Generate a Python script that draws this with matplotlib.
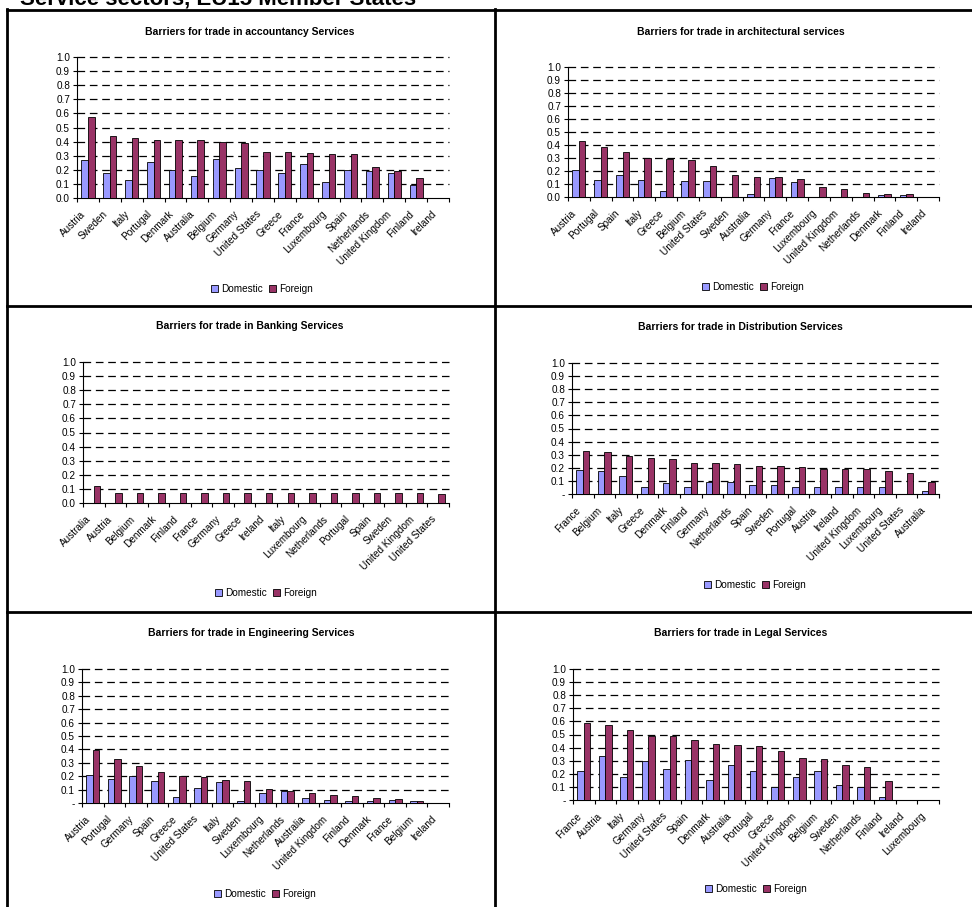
import numpy as np
import matplotlib
matplotlib.use("Agg")
import matplotlib.pyplot as plt
from matplotlib.patches import Patch
from matplotlib.lines import Line2D
import matplotlib.transforms as mtransforms

plt.rcParams['font.family'] = ['Liberation Sans', 'DejaVu Sans']
plt.rcParams['lines.scale_dashes'] = False

# ---- data -------------------------------------------------------------
acc_countries = ["Austria", "Sweden", "Italy", "Portugal", "Denmark", "Australia",
                 "Belgium", "Germany", "United States", "Greece", "France",
                 "Luxembourg", "Spain", "Netherlands", "United Kingdom", "Finland",
                 "Ireland"]
acc_domestic = [0.267, 0.175, 0.125, 0.252, 0.200, 0.153, 0.274, 0.215, 0.200,
                0.175, 0.240, 0.113, 0.200, 0.189, 0.175, 0.092, 0.0]
acc_foreign = [0.571, 0.441, 0.429, 0.408, 0.408, 0.408, 0.396, 0.389, 0.328,
               0.323, 0.316, 0.309, 0.309, 0.222, 0.193, 0.139, 0.0]

arch_countries = ["Austria", "Portugal", "Spain", "Italy", "Greece", "Belgium",
                  "United States", "Sweden", "Australia", "Germany", "France",
                  "Luxembourg", "United Kingdom", "Netherlands", "Denmark",
                  "Finland", "Ireland"]
arch_domestic = [0.211, 0.131, 0.173, 0.131, 0.049, 0.124, 0.124, 0.0, 0.021,
                 0.144, 0.116, 0.0, 0.0, 0.0, 0.013, 0.013, 0.0]
arch_foreign = [0.430, 0.381, 0.343, 0.299, 0.291, 0.283, 0.235, 0.168, 0.155,
                0.155, 0.137, 0.080, 0.064, 0.028, 0.020, 0.020, 0.0]

bank_countries = ["Australia", "Austria", "Belgium", "Denmark", "Finland", "France",
                  "Germany", "Greece", "Ireland", "Italy", "Luxembourg",
                  "Netherlands", "Portugal", "Spain", "Sweden", "United Kingdom",
                  "United States"]
bank_domestic = [0.0] * 17
bank_foreign = [0.121, 0.069, 0.069, 0.069, 0.069, 0.069, 0.069, 0.069, 0.069,
                0.069, 0.069, 0.069, 0.069, 0.069, 0.069, 0.069, 0.062]

dist_countries = ["France", "Belgium", "Italy", "Greece", "Denmark", "Finland",
                  "Germany", "Netherlands", "Spain", "Sweden", "Portugal", "Austria",
                  "Ireland", "United Kingdom", "Luxembourg", "United States",
                  "Australia"]
dist_domestic = [0.181, 0.173, 0.138, 0.051, 0.087, 0.051, 0.094, 0.094, 0.071,
                 0.071, 0.051, 0.051, 0.051, 0.051, 0.051, 0.0, 0.020]
dist_foreign = [0.327, 0.319, 0.291, 0.276, 0.268, 0.240, 0.240, 0.232, 0.217,
                0.212, 0.204, 0.189, 0.189, 0.189, 0.173, 0.161, 0.094]

eng_countries = ["Austria", "Portugal", "Germany", "Spain", "Greece", "United States",
                 "Italy", "Sweden", "Luxembourg", "Netherlands", "Australia",
                 "United Kingdom", "Finland", "Denmark", "France", "Belgium",
                 "Ireland"]
eng_domestic = [0.207, 0.177, 0.200, 0.162, 0.047, 0.112, 0.157, 0.012, 0.077,
                0.092, 0.035, 0.020, 0.012, 0.012, 0.020, 0.012, 0.0]
eng_foreign = [0.392, 0.327, 0.279, 0.234, 0.200, 0.192, 0.170, 0.162, 0.105,
               0.092, 0.077, 0.062, 0.055, 0.035, 0.027, 0.012, 0.0]

legal_countries = ["France", "Austria", "Italy", "Germany", "United States", "Spain",
                   "Denmark", "Australia", "Portugal", "Greece", "United Kingdom",
                   "Belgium", "Sweden", "Netherlands", "Finland", "Ireland",
                   "Luxembourg"]
legal_domestic = [0.218, 0.335, 0.175, 0.297, 0.239, 0.305, 0.152, 0.269, 0.218,
                  0.102, 0.175, 0.218, 0.117, 0.102, 0.023, 0.0, 0.0]
legal_foreign = [0.584, 0.571, 0.536, 0.487, 0.487, 0.457, 0.426, 0.419, 0.414,
                 0.376, 0.320, 0.312, 0.269, 0.254, 0.145, 0.0, 0.0]

y_ticks = [0.0, 0.1, 0.2, 0.3, 0.4, 0.5, 0.6, 0.7, 0.8, 0.9, 1.0]
y_labels_decimal = ["0.0", "0.1", "0.2", "0.3", "0.4", "0.5", "0.6", "0.7", "0.8", "0.9", "1.0"]
y_labels_dash = ["-", "0.1", "0.2", "0.3", "0.4", "0.5", "0.6", "0.7", "0.8", "0.9", "1.0"]

# ---- figure -----------------------------------------------------------
W, H = 972, 907
fig = plt.figure(figsize=(W / 100, H / 100), dpi=100)
fig.patch.set_facecolor("white")

DOM_COLOR = "#9999FF"
FOR_COLOR = "#993366"


def fx(px):
    return px / W


def fy(py):
    return 1 - py / H


# page heading (its upper part runs off the top of the page)
fig.text(fx(20), fy(5), "Service sectors, EU15 Member States", fontsize=16,
         fontweight="bold", ha="left", va="baseline")

# table borders
border_kw = dict(color="black", lw=2.0, transform=fig.transFigure)
fig.add_artist(Line2D([fx(7), fx(972)], [fy(10), fy(10)], **border_kw))
fig.add_artist(Line2D([fx(7), fx(972)], [fy(306), fy(306)], **border_kw))
fig.add_artist(Line2D([fx(7), fx(972)], [fy(612), fy(612)], **border_kw))
fig.add_artist(Line2D([fx(7), fx(7)], [fy(9), fy(907)], **border_kw))
fig.add_artist(Line2D([fx(495), fx(495)], [fy(9), fy(907)], **border_kw))


def panel(title, countries, dom, forg, box, title_xy, legend_xy, ylabels):
    left, right, top, bottom = box
    ax = fig.add_axes([fx(left), fy(bottom), fx(right - left), (bottom - top) / H])
    n = len(countries)
    x = np.arange(n)
    w = 0.3
    ax.bar(x - w / 2, dom, width=w, color=DOM_COLOR, edgecolor="black", lw=0.6, zorder=3)
    ax.bar(x + w / 2, forg, width=w, color=FOR_COLOR, edgecolor="black", lw=0.6, zorder=3)
    ax.set_xlim(-0.5, n - 0.5)
    ax.set_ylim(0, 1.0)
    for yv in y_ticks[1:]:
        ax.axhline(yv, color="black", lw=0.9, linestyle=(0, (5.5, 3.4)),
                   clip_on=False, zorder=1)
    for s in ("top", "right"):
        ax.spines[s].set_visible(False)
    for s in ("left", "bottom"):
        ax.spines[s].set_color("black")
        ax.spines[s].set_linewidth(0.8)
    ax.set_yticks(y_ticks)
    ax.set_yticklabels(ylabels, fontsize=7.2)
    ax.tick_params(axis="y", direction="out", length=3, width=0.8, pad=2)
    ax.set_xticks(x)
    ax.set_xticklabels(countries, fontsize=7.2, rotation=45, ha="right", va="center",
                       rotation_mode="anchor")
    ax.set_xticks(np.arange(n + 1) - 0.5, minor=True)
    ax.tick_params(axis="x", which="major", length=0, pad=10.5)
    ax.tick_params(axis="x", which="minor", direction="out", length=3, width=0.8)
    offset = mtransforms.ScaledTranslation(-4 / 100, 0, fig.dpi_scale_trans)
    for lab in ax.get_xticklabels():
        lab.set_transform(lab.get_transform() + offset)
    fig.text(fx(title_xy[0]), fy(title_xy[1]), title, fontsize=7.5, fontweight="bold",
             ha="center", va="center")
    handles = [Patch(facecolor=DOM_COLOR, edgecolor="black", lw=0.6, label="Domestic"),
               Patch(facecolor=FOR_COLOR, edgecolor="black", lw=0.6, label="Foreign")]
    fig.legend(handles=handles, loc="center", ncol=2, frameon=False, fontsize=7.2,
               bbox_to_anchor=(fx(legend_xy[0]), fy(legend_xy[1])),
               bbox_transform=fig.transFigure, handlelength=0.7, handleheight=0.7,
               handletextpad=0.3, columnspacing=0.6, borderpad=0)
    return ax


panel("Barriers for trade in accountancy Services", acc_countries, acc_domestic,
      acc_foreign, (77, 449, 57, 198), (250, 32), (262, 289), y_labels_decimal)
panel("Barriers for trade in architectural services", arch_countries, arch_domestic,
      arch_foreign, (568, 939, 67, 197), (741, 32), (753, 287), y_labels_decimal)
panel("Barriers for trade in Banking Services", bank_countries, bank_domestic,
      bank_foreign, (83, 449, 362, 503), (250, 326), (266, 593), y_labels_decimal)
panel("Barriers for trade in Distribution Services", dist_countries, dist_domestic,
      dist_foreign, (572, 939, 363, 494), (740, 327), (755, 585), y_labels_dash)
panel("Barriers for trade in Engineering Services", eng_countries, eng_domestic,
      eng_foreign, (82, 449, 669, 803), (251, 633), (265, 894), y_labels_dash)
panel("Barriers for trade in Legal Services", legal_countries, legal_domestic,
      legal_foreign, (573, 939, 669, 800), (741, 633), (756, 889), y_labels_dash)

fig.savefig("out.png", dpi=100)
